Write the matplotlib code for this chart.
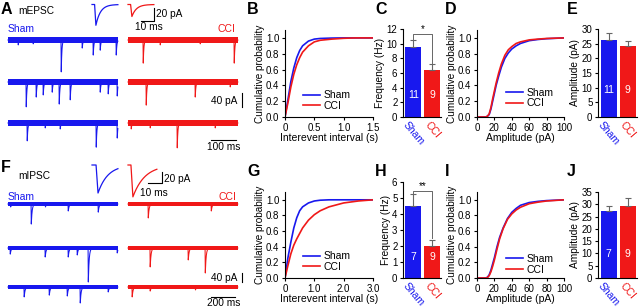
import numpy as np
import matplotlib
matplotlib.use('Agg')
import matplotlib.pyplot as plt

plt.rcParams['font.family'] = ['Liberation Sans', 'DejaVu Sans']

BLUE = '#1818ee'
RED = '#f01818'
GREY = '#666666'

# ------------------------------------------------------------------ data
groups = ['Sham', 'CCI']

# raw sweeps: events as (time ms, amplitude pA)
mepsc_sham_events = [
    [(40, 14), (100, 11), (212, 91), (296, 23), (340, 43), (368, 29), (432, 43)],
    [(72, 71), (112, 43), (140, 37), (176, 29), (204, 63), (248, 51), (368, 29), (400, 34), (436, 40)],
    [(76, 51), (148, 14), (208, 17), (352, 69), (436, 43)],
]
mepsc_cci_events = [
    [(60, 66), (128, 14), (288, 11), (424, 66)],
    [(72, 66), (268, 43), (408, 14)],
    [(12, 17), (88, 14), (196, 71), (348, 14)],
]
mipsc_sham_events = [
    [(20, 13), (192, 89), (310, 13), (500, 31), (750, 36)],
    [(17, 27), (308, 40), (500, 40), (575, 31), (667, 151), (908, 22)],
    [(133, 44), (342, 36), (492, 40), (600, 71), (833, 22)],
]
mipsc_cci_events = [
    [(167, 62), (692, 31)],
    [(183, 84), (500, 53), (642, 111)],
    [(33, 44), (183, 18), (560, 13)],
]
mepsc_sweep_ms = 440
mipsc_sweep_ms = 915

# averaged events: amplitude (pA), decay tau (ms)
mepsc_avg_amp = [32, 18.5]
mepsc_avg_tau = [3.5, 3.5]
mipsc_avg_amp = [51, 58]
mipsc_avg_tau = [7.0, 8.5]

# cumulative distributions
B_x = [0, 0.05, 0.1, 0.15, 0.2, 0.25, 0.3, 0.4, 0.5, 0.6, 0.8, 1.0, 1.2, 1.5]
B_sham = [0, 0.22, 0.45, 0.62, 0.75, 0.84, 0.9, 0.96, 0.985, 0.993, 0.998, 1.0, 1.0, 1.0]
B_cci = [0, 0.18, 0.38, 0.54, 0.66, 0.75, 0.82, 0.9, 0.95, 0.97, 0.985, 0.995, 1.0, 1.0]

D_x = [0, 10, 12, 14, 16, 18, 20, 22, 25, 28, 32, 36, 40, 45, 50, 60, 70, 80, 100]
D_sham = [0, 0, 0.01, 0.03, 0.1, 0.2, 0.3, 0.4, 0.52, 0.63, 0.74, 0.81, 0.86, 0.9, 0.93, 0.965, 0.98, 0.99, 1.0]
D_cci = [0, 0, 0.01, 0.04, 0.12, 0.23, 0.33, 0.43, 0.56, 0.67, 0.78, 0.85, 0.89, 0.93, 0.95, 0.975, 0.985, 0.993, 1.0]

G_x = [0, 0.1, 0.2, 0.3, 0.4, 0.5, 0.6, 0.8, 1.0, 1.2, 1.5, 2.0, 2.5, 3.0]
G_sham = [0, 0.26, 0.46, 0.64, 0.77, 0.86, 0.91, 0.96, 0.985, 0.995, 1.0, 1.0, 1.0, 1.0]
G_cci = [0, 0.16, 0.31, 0.42, 0.5, 0.57, 0.64, 0.74, 0.81, 0.86, 0.91, 0.96, 0.985, 1.0]

I_x = [0, 10, 12, 14, 16, 18, 20, 23, 26, 30, 35, 40, 45, 50, 60, 70, 80, 100]
I_sham = [0, 0, 0.01, 0.04, 0.1, 0.18, 0.26, 0.4, 0.52, 0.64, 0.76, 0.84, 0.89, 0.93, 0.965, 0.98, 0.99, 1.0]
I_cci = [0, 0, 0.005, 0.03, 0.08, 0.15, 0.23, 0.37, 0.5, 0.63, 0.75, 0.82, 0.87, 0.905, 0.95, 0.97, 0.985, 1.0]

# bar summaries
C_mean = [9.5, 6.4]; C_err = [1.0, 0.8]; C_n = ['11', '9']
E_mean = [26.1, 24.3]; E_err = [2.5, 1.7]; E_n = ['11', '9']
H_mean = [4.5, 2.0]; H_err = [0.75, 0.35]; H_n = ['7', '9']
J_mean = [27.3, 29.2]; J_err = [2.0, 3.5]; J_n = ['7', '9']

# ------------------------------------------------------------------ layout helpers
W, H = 640, 307
fig = plt.figure(figsize=(6.4, 3.07), dpi=100)


def pax(l, t, r, b):
    a = fig.add_axes([l / W, 1 - b / H, (r - l) / W, (b - t) / H])
    return a


def ftext(x, y, s, **kw):
    kw.setdefault('va', 'center')
    fig.text(x / W, 1 - y / H, s, **kw)


def waveform(t, t0, amp, rise, tau):
    y = np.zeros_like(t)
    m1 = (t >= t0) & (t < t0 + rise)
    y[m1] = -amp * (t[m1] - t0) / rise
    m2 = t >= t0 + rise
    y[m2] = -amp * np.exp(-(t[m2] - t0 - rise) / tau)
    return y


def trace_row(ax_px, ms_px, pa_px, base_px, starts_px, sweep_sets, dur, rise, tau, band, colors):
    l, t, r, b = ax_px
    ax = pax(l, t, r, b)
    ax.set_xlim(0, (r - l) * ms_px)
    ax.set_ylim(-(b - base_px[0]) * pa_px, (base_px[0] - t) * pa_px)
    ax.axis('off')
    tt = np.arange(0, dur, 0.5)
    for sx, sweeps, col in zip(starts_px, sweep_sets, colors):
        x0 = (sx - l) * ms_px
        for k, evs in enumerate(sweeps):
            off = -(base_px[k] - base_px[0]) * pa_px
            y = np.zeros_like(tt)
            for (te, amp) in evs:
                y += waveform(tt, te, amp, rise, tau)
            y += off
            ax.fill_between([x0, x0 + dur], off - band * pa_px, off + band * pa_px, color=col, lw=0)
            ax.plot(tt + x0, y, color=col, lw=0.75)
    return ax


def avg_row(ax_px, ms_px, pa_px, base_y, starts_px, onsets, durs, amps, taus, rise, colors):
    l, t, r, b = ax_px
    ax = pax(l, t, r, b)
    ax.set_xlim(0, (r - l) * ms_px)
    ax.set_ylim(-(b - base_y) * pa_px, (base_y - t) * pa_px)
    ax.axis('off')
    for sx, on, d, a, tau, col in zip(starts_px, onsets, durs, amps, taus, colors):
        tt = np.arange(0, d, 0.1)
        y = waveform(tt, on, a, rise, tau)
        ax.plot(tt + (sx - l) * ms_px, y, color=col, lw=0.9)
    return ax


def px2data(ax_px, ms_px, pa_px, base_y, x, y):
    l, t, r, b = ax_px
    return (x - l) * ms_px, (base_y - y) * pa_px


# ------------------------------------------------------------------ traces row A
A_px = (0, 0, 250, 150)
A_ms, A_pa = 4.0, 2.857
A_base = [40, 82, 123]
axA = trace_row(A_px, A_ms, A_pa, A_base, [8, 128],
                [mepsc_sham_events, mepsc_cci_events], mepsc_sweep_ms, 1.0, 2.5, 3.3, [BLUE, RED])
x1, y1 = px2data(A_px, A_ms, A_pa, A_base[0], 242, 93)
axA.plot([x1, x1], [y1, y1 - 40], color='k', lw=0.8, clip_on=False)
x2, y2 = px2data(A_px, A_ms, A_pa, A_base[0], 211, 140)
axA.plot([x2, x2 + 100], [y2, y2], color='k', lw=0.8, clip_on=False)
ftext(237, 101, '40 pA', ha='right', fontsize=7.3)
ftext(223.5, 146.5, '100 ms', ha='center', fontsize=7.3)

Aavg_px = (85, 0, 200, 35)
Aavg_ms, Aavg_pa, Aavg_base = 0.769, 1.54, 4.5
axAa = avg_row(Aavg_px, Aavg_ms, Aavg_pa, Aavg_base, [92, 128], [2.0, 2.0], [20, 20],
               mepsc_avg_amp, mepsc_avg_tau, 1.0, [BLUE, RED])
sx, sy = px2data(Aavg_px, Aavg_ms, Aavg_pa, Aavg_base, 154, 21)
axAa.plot([sx - 10, sx, sx], [sy, sy, sy + 20], color='k', lw=0.8, clip_on=False)
ftext(156, 14, '20 pA', ha='left', fontsize=7.3)
ftext(135, 27.5, '10 ms', ha='left', fontsize=7.3)

# ------------------------------------------------------------------ traces row F
F_px = (0, 150, 250, 307)
F_ms, F_pa = 8.33, 4.44
F_base = [204, 248, 287]
axF = trace_row(F_px, F_ms, F_pa, F_base, [8, 128],
                [mipsc_sham_events, mipsc_cci_events], mipsc_sweep_ms, 2.0, 7.0, 2.3, [BLUE, RED])
x1, y1 = px2data(F_px, F_ms, F_pa, F_base[0], 242, 273)
axF.plot([x1, x1], [y1, y1 - 40], color='k', lw=0.8, clip_on=False)
x2, y2 = px2data(F_px, F_ms, F_pa, F_base[0], 211, 297)
axF.plot([x2, x2 + 200], [y2, y2], color='k', lw=0.8, clip_on=False)
ftext(237, 278, '40 pA', ha='right', fontsize=7.3)
ftext(223.5, 302.5, '200 ms', ha='center', fontsize=7.3)

Favg_px = (85, 155, 200, 205)
Favg_ms, Favg_pa, Favg_base = 0.714, 1.82, 165
axFa = avg_row(Favg_px, Favg_ms, Favg_pa, Favg_base, [92, 128], [2.9, 2.1], [18.6, 20.7],
               mipsc_avg_amp, mipsc_avg_tau, 1.4, [BLUE, RED])
sx, sy = px2data(Favg_px, Favg_ms, Favg_pa, Favg_base, 162, 183)
axFa.plot([sx - 10, sx, sx], [sy, sy, sy + 20], color='k', lw=0.8, clip_on=False)
ftext(163.5, 178.5, '20 pA', ha='left', fontsize=7.3)
ftext(140, 193.5, '10 ms', ha='left', fontsize=7.3)

# trace labels
ftext(18, 11, 'mEPSC', ha='left', fontsize=7.3)
ftext(18, 176, 'mIPSC', ha='left', fontsize=7.3)
ftext(8, 29, groups[0], ha='left', color=BLUE, fontsize=7.5)
ftext(235, 29, groups[1], ha='right', color=RED, fontsize=7.5)
ftext(8, 197, groups[0], ha='left', color=BLUE, fontsize=7.5)
ftext(236, 197, groups[1], ha='right', color=RED, fontsize=7.5)


# ------------------------------------------------------------------ styling helpers
def style(ax):
    for s in ['top', 'right']:
        ax.spines[s].set_visible(False)
    for s in ['left', 'bottom']:
        ax.spines[s].set_linewidth(0.8)
    ax.tick_params(direction='out', length=2.5, width=0.8, labelsize=7, pad=1.5)


def cum_panel(px, x, ys, xlim, xticks, xticklabels, xlabel, leg_anchor):
    ax = pax(*px)
    for yv, col, lab in zip(ys, [BLUE, RED], groups):
        ax.plot(x, yv, color=col, lw=1.2, label=lab)
    ax.set_xlim(*xlim)
    ax.set_ylim(0, 1.1)
    ax.set_yticks([0, 0.2, 0.4, 0.6, 0.8, 1.0])
    ax.set_yticklabels(['0.0', '0.2', '0.4', '0.6', '0.8', '1.0'])
    ax.set_xticks(xticks)
    ax.set_xticklabels(xticklabels)
    style(ax)
    ax.set_xlabel(xlabel, fontsize=7.5, labelpad=0.5)
    ax.set_ylabel('Cumulative probability', fontsize=7.2, labelpad=1)
    ax.legend(loc='lower left', bbox_to_anchor=leg_anchor, frameon=False, fontsize=7.5,
              handlelength=1.7, handletextpad=0.3, labelspacing=0.05, borderpad=0, borderaxespad=0)
    return ax


def bar_panel(px, means, errs, ns, ylim, yticks, ylabel, nfrac, bracket=None):
    ax = pax(*px)
    xp = np.arange(2)
    ax.bar(xp, means, width=0.84, color=[BLUE, RED], edgecolor='none')
    ax.errorbar(xp, means, yerr=[[0, 0], errs], fmt='none', ecolor=GREY,
                elinewidth=0.8, capsize=2, capthick=0.8)
    ax.set_xlim(-0.55, 1.47)
    ax.set_ylim(*ylim)
    ax.set_yticks(yticks)
    ax.set_xticks(xp)
    ax.set_xticklabels(groups, rotation=-50, ha='center', va='top', fontsize=7.5)
    for lbl, col in zip(ax.get_xticklabels(), [BLUE, RED]):
        lbl.set_color(col)
    style(ax)
    ax.tick_params(axis='x', length=0, pad=2, labelsize=7.5)
    ax.set_ylabel(ylabel, fontsize=7.3, labelpad=1)
    for xi, n in zip(xp, ns):
        ax.text(xi, ylim[1] * nfrac, n, color='white', ha='center', va='center', fontsize=7.5)
    if bracket is not None:
        top, left_low, right_low, star = bracket
        ax.plot([0, 0, 1, 1], [left_low, top, top, right_low], color=GREY, lw=0.7, clip_on=False)
        ax.text(0.5, top, star, ha='center', va='bottom', fontsize=7, clip_on=False)
    return ax


# ------------------------------------------------------------------ panels
cum_panel((285, 30, 373, 117), B_x, [B_sham, B_cci], (0, 1.5), [0, 0.5, 1.0, 1.5],
          ['0', '0.5', '1.0', '1.5'], 'Interevent interval (s)', (0.2, 0.07))
cum_panel((477, 30, 564, 117), D_x, [D_sham, D_cci], (0, 100), [0, 20, 40, 60, 80, 100],
          ['0', '20', '40', '60', '80', '100'], 'Amplitude (pA)', (0.33, 0.1))
cum_panel((285, 192, 373, 278), G_x, [G_sham, G_cci], (0, 3.0), [0, 1.0, 2.0, 3.0],
          ['0', '1.0', '2.0', '3.0'], 'Interevent interval (s)', (0.2, 0.07))
cum_panel((477, 192, 564, 278), I_x, [I_sham, I_cci], (0, 100), [0, 20, 40, 60, 80, 100],
          ['0', '20', '40', '60', '80', '100'], 'Amplitude (pA)', (0.33, 0.04))

bar_panel((403, 29, 441, 117), C_mean, C_err, C_n, (0, 12), [0, 2, 4, 6, 8, 10, 12],
          'Frequency (Hz)', 0.25, bracket=(11.3, 10.7, 7.4, '*'))
bar_panel((598, 29, 637, 117), E_mean, E_err, E_n, (0, 30), [0, 5, 10, 15, 20, 25, 30],
          'Amplitude (pA)', 0.31)
bar_panel((403, 182, 441, 278), H_mean, H_err, H_n, (0, 6), [0, 1, 2, 3, 4, 5, 6],
          'Frequency (Hz)', 0.22, bracket=(5.45, 5.3, 2.5, '**'))
bar_panel((598, 192, 637, 278), J_mean, J_err, J_n, (0, 35), [0, 5, 10, 15, 20, 25, 30, 35],
          'Amplitude (pA)', 0.28)

# panel letters
for letter, x, y in [('A', 1, 10), ('B', 247, 10), ('C', 375, 10), ('D', 445, 10), ('E', 567, 10),
                     ('F', 1, 168), ('G', 247, 172), ('H', 375, 172), ('I', 445, 172), ('J', 567, 172)]:
    ftext(x, y, letter, ha='left', fontsize=11.5, fontweight='bold')

fig.savefig('out.png', dpi=100)
